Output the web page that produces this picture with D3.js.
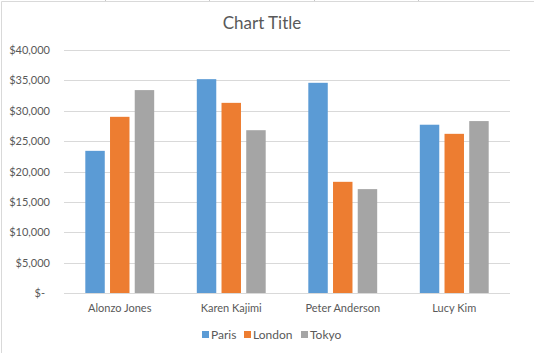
<!DOCTYPE html>
<html>
<head>
<meta charset="utf-8">
<script src="https://cdn.jsdelivr.net/npm/d3@7"></script>
<style>
	html, body { margin: 0; padding: 0; background: #fff; }
	svg { display: block; }
	text { font-family: Lato, "Open Sans", sans-serif; fill: #595959; }
</style>
</head>
<body>
<script>
const categories = ["Alonzo Jones", "Karen Kajimi", "Peter Anderson", "Lucy Kim"];
const series = ["Paris", "London", "Tokyo"];
const paris = [23400, 35200, 34600, 27700];
const london = [29000, 31300, 18300, 26200];
const tokyo = [33400, 26800, 17100, 28300];
const yticks = [0, 5000, 10000, 15000, 20000, 25000, 30000, 35000, 40000];
const colors = ["#5b9bd5", "#ed7d31", "#a5a5a5"];

const W = 534, H = 353;
const plot = { left: 64, right: 510, top: 50, bottom: 293 };

const svg = d3.select("body").append("svg")
	.attr("width", W)
	.attr("height", H);

// chart frame (only top and left edges are visible in the shot)
svg.append("path")
	.attr("d", `M1.5,${H} V1.5 H${W}`)
	.attr("fill", "none")
	.attr("stroke", "#d9d9d9");

for (let x of [105, 209, 314, 418])
	svg.append("line")
		.attr("x1", x + 0.5).attr("x2", x + 0.5)
		.attr("y1", 0).attr("y2", 1)
		.attr("stroke", "#c8c8c8");

svg.append("text")
	.attr("x", 262)
	.attr("y", 29)
	.attr("text-anchor", "middle")
	.style("font-size", "17px")
	.text("Chart Title");

const y = d3.scaleLinear()
	.domain([0, 40000])
	.range([plot.bottom, plot.top]);

const x0 = d3.scaleBand()
	.domain(categories)
	.range([plot.left, plot.right]);

// excel defaults: gap width 219%, overlap -27%
const w = x0.bandwidth() / (3 + 2 * 0.27 + 2.19);
const x1 = d3.scaleBand()
	.domain(series)
	.range([0, w * (3 + 2 * 0.27)])
	.paddingInner(0.27 / 1.27);
const groupOffset = (x0.bandwidth() - w * (3 + 2 * 0.27)) / 2;

// gridlines
svg.append("g")
	.selectAll("line")
	.data(yticks)
	.enter().append("line")
	.attr("x1", plot.left)
	.attr("x2", plot.right)
	.attr("y1", d => Math.round(y(d)) + 0.5)
	.attr("y2", d => Math.round(y(d)) + 0.5)
	.attr("stroke", "#d9d9d9");

const fmt = d3.format("$,");
svg.append("g")
	.selectAll("text")
	.data(yticks)
	.enter().append("text")
	.attr("x", d => d === 0 ? 45 : 50)
	.attr("y", d => y(d) + 4)
	.attr("text-anchor", "end")
	.style("font-size", "11px")
	.text(d => d === 0 ? "$-" : fmt(d));

const values = [paris, london, tokyo];
const rows = [];
categories.forEach((c, i) => series.forEach((s, j) => rows.push({ c, s, v: values[j][i], k: j })));

svg.append("g")
	.selectAll("rect")
	.data(rows)
	.enter().append("rect")
	.attr("x", d => x0(d.c) + groupOffset + x1(d.s))
	.attr("width", x1.bandwidth())
	.attr("y", d => y(d.v))
	.attr("height", d => plot.bottom - y(d.v))
	.attr("fill", d => colors[d.k]);

svg.append("g")
	.selectAll("text")
	.data(categories)
	.enter().append("text")
	.attr("x", d => x0(d) + x0.bandwidth() / 2)
	.attr("y", 312)
	.attr("text-anchor", "middle")
	.style("font-size", "11px")
	.text(d => d);

// legend
const legendX = [202, 244, 301];
const lg = svg.append("g")
	.selectAll("g")
	.data(series)
	.enter().append("g")
	.attr("transform", (d, i) => `translate(${legendX[i]},0)`);

lg.append("rect")
	.attr("x", 0)
	.attr("y", 331)
	.attr("width", 7)
	.attr("height", 7)
	.attr("fill", (d, i) => colors[i]);

lg.append("text")
	.attr("x", 9)
	.attr("y", 339)
	.style("font-size", "12px")
	.text(d => d);
</script>
</body>
</html>
